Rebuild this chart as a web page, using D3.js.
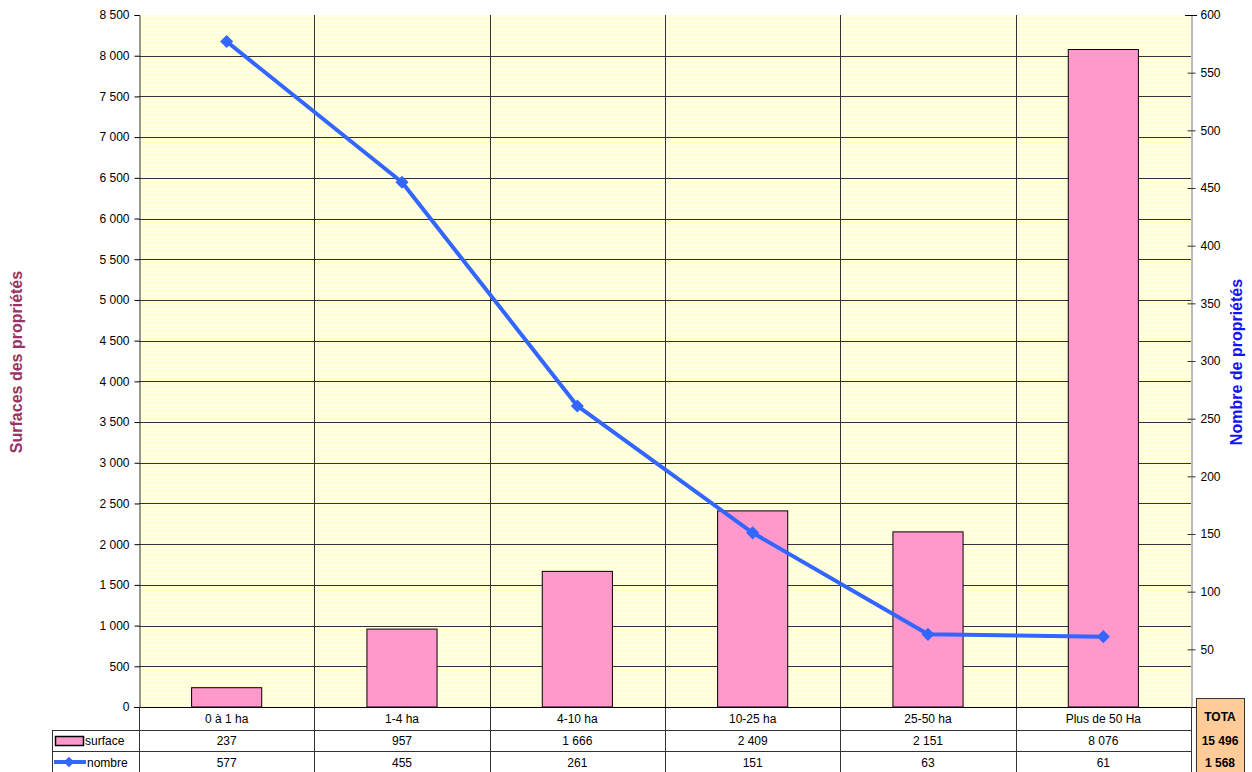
<!DOCTYPE html>
<html><head><meta charset="utf-8">
<script src="https://cdn.jsdelivr.net/npm/d3@7"></script>
<style>body{margin:0;background:#fff;} svg{display:block;font-family:"Liberation Sans",Arial,sans-serif;}</style>
</head><body>
<svg id="c" width="1252" height="772"></svg>
<script>
const categories = ["0 à 1 ha","1-4 ha","4-10 ha","10-25 ha","25-50 ha","Plus de 50 Ha"];
const surface = [237, 957, 1666, 2409, 2151, 8076];
const nombre = [577, 455, 261, 151, 63, 61];
const leftTicks = d3.range(0, 8501, 500);
const rightTicks = d3.range(50, 601, 50);
const totals = ["TOTA", "15 496", "1 568"];

const svg = d3.select("#c");
const fmt = v => d3.format(",")(v).replace(/,/g, " ");
const L = 139, R = 1191, T = 15, B = 707;
const x = d3.scaleBand().domain(categories).range([L, R]);
const yL = d3.scaleLinear().domain([0, 8500]).range([B, T]);
const yR = d3.scaleLinear().domain([0, 600]).range([B, T]);

// background pattern
const defs = svg.append("defs");
const pat = defs.append("pattern").attr("id","stripes").attr("width",8).attr("height",4).attr("patternUnits","userSpaceOnUse");
pat.append("rect").attr("width",8).attr("height",4).attr("fill","#FFFFE6");
pat.append("rect").attr("y",2).attr("width",8).attr("height",1.2).attr("fill","#FFFFC6");
svg.append("rect").attr("x",L).attr("y",T).attr("width",R-L).attr("height",B-T).attr("fill","url(#stripes)");

// horizontal gridlines
svg.append("g").selectAll("line").data(leftTicks.filter(d=>d>0 && d<8500)).join("line")
  .attr("x1",L).attr("x2",R).attr("y1",d=>Math.round(yL(d))+0.5).attr("y2",d=>Math.round(yL(d))+0.5)
  .attr("stroke","#333").attr("stroke-width",1);

// vertical gridlines (category boundaries, extend through the table)
svg.append("g").selectAll("line").data(categories.slice(1)).join("line")
  .attr("x1",d=>Math.round(x(d))+0.5).attr("x2",d=>Math.round(x(d))+0.5)
  .attr("y1",T).attr("y2",772).attr("stroke","#333").attr("stroke-width",1);

// bars
const bw = x.bandwidth()*0.4;
svg.append("g").selectAll("rect").data(surface).join("rect")
  .attr("x",(d,i)=>x(categories[i])+x.bandwidth()/2-bw/2)
  .attr("y",d=>yL(d)).attr("width",bw).attr("height",d=>B-yL(d))
  .attr("fill","#FF99CC").attr("stroke","#000").attr("stroke-width",1);

// left axis
const la = svg.append("g").attr("transform",`translate(${L+0.5},0)`)
  .call(d3.axisLeft(yL).tickValues(leftTicks).tickFormat(fmt).tickSize(5).tickPadding(5));
la.select(".domain").attr("stroke","#333");
la.selectAll("line").attr("stroke","#000");
la.selectAll("text").attr("font-size",12).attr("fill","#000").attr("font-family","Liberation Sans, Arial, sans-serif");

// right axis
const ra = svg.append("g").attr("transform",`translate(${R+0.5},0)`)
  .call(d3.axisRight(yR).tickValues(rightTicks).tickSize(4).tickPadding(5));
ra.select(".domain").attr("stroke","#777");
ra.selectAll(".tick line").attr("x1",-4).attr("stroke","#333");
ra.selectAll("text").attr("font-size",12).attr("fill","#000").attr("font-family","Liberation Sans, Arial, sans-serif");
svg.append("line").attr("x1",R-6).attr("x2",R+6).attr("y1",T+0.5).attr("y2",T+0.5).attr("stroke","#000");

// bottom axis line
svg.append("line").attr("x1",L-5).attr("x2",R+6).attr("y1",B+0.5).attr("y2",B+0.5).attr("stroke","#000");

// line series
const cx = c => x(c)+x.bandwidth()/2;
svg.append("path").datum(nombre)
  .attr("d",d3.line().x((d,i)=>cx(categories[i])).y(d=>yR(d)))
  .attr("fill","none").attr("stroke","#3366FF").attr("stroke-width",4).attr("stroke-linejoin","round");
svg.append("g").selectAll("path").data(nombre).join("path")
  .attr("d",d3.symbol(d3.symbolDiamond2, 110))
  .attr("transform",(d,i)=>`translate(${cx(categories[i])},${yR(d)})`)
  .attr("fill","#3366FF");

// data table
const r1 = 730.5, r2 = 751.5;
const tg = svg.append("g");
tg.append("line").attr("x1",52).attr("x2",R).attr("y1",r1).attr("y2",r1).attr("stroke","#333");
tg.append("line").attr("x1",52).attr("x2",R).attr("y1",r2).attr("y2",r2).attr("stroke","#333");
tg.append("line").attr("x1",52.5).attr("x2",52.5).attr("y1",r1).attr("y2",772).attr("stroke","#333");
tg.append("line").attr("x1",L+0.5).attr("x2",L+0.5).attr("y1",B).attr("y2",772).attr("stroke","#333");
tg.append("line").attr("x1",R+0.5).attr("x2",R+0.5).attr("y1",B).attr("y2",772).attr("stroke","#333");
tg.selectAll("text.cat").data(categories).join("text").attr("class","cat")
  .attr("x",d=>cx(d)).attr("y",723).attr("text-anchor","middle").attr("font-size",12).text(d=>d);
tg.selectAll("text.s").data(surface).join("text").attr("class","s")
  .attr("x",(d,i)=>cx(categories[i])).attr("y",745).attr("text-anchor","middle").attr("font-size",12).text(fmt);
tg.selectAll("text.n").data(nombre).join("text").attr("class","n")
  .attr("x",(d,i)=>cx(categories[i])).attr("y",767).attr("text-anchor","middle").attr("font-size",12).text(fmt);
// legend keys
tg.append("rect").attr("x",55.5).attr("y",736.5).attr("width",28).attr("height",9).attr("fill","#FF99CC").attr("stroke","#000").attr("stroke-width",1.5);
tg.append("text").attr("x",85).attr("y",745).attr("font-size",12).text("surface");
tg.append("line").attr("x1",54).attr("x2",86).attr("y1",762).attr("y2",762).attr("stroke","#3366FF").attr("stroke-width",4);
tg.append("path").attr("d",d3.symbol(d3.symbolDiamond2,70)).attr("transform","translate(69,762)").attr("fill","#3366FF");
tg.append("text").attr("x",87).attr("y",767).attr("font-size",12).text("nombre");

// totals box
const tb = svg.append("g");
tb.append("rect").attr("x",1196.5).attr("y",698.5).attr("width",48).attr("height",80).attr("fill","#FFCC99").attr("stroke","#333");
tb.append("clipPath").attr("id","tclip").append("rect").attr("x",1197).attr("y",699).attr("width",47).attr("height",80);
tb.selectAll("text").data(totals).join("text")
  .attr("clip-path","url(#tclip)")
  .attr("x",1220).attr("y",(d,i)=>[721,745,767][i]).attr("text-anchor","middle")
  .attr("font-size",12).attr("font-weight","bold").text(d=>d);

// axis titles
svg.append("text").attr("transform","translate(22,362) rotate(-90)").attr("text-anchor","middle")
  .attr("font-size",16).attr("font-weight","bold").attr("fill","#993366").text("Surfaces des propriétés");
svg.append("text").attr("transform","translate(1242,362) rotate(-90)").attr("text-anchor","middle")
  .attr("font-size",16).attr("font-weight","bold").attr("fill","#1414F0").text("Nombre de propriétés");
</script>
</body></html>
